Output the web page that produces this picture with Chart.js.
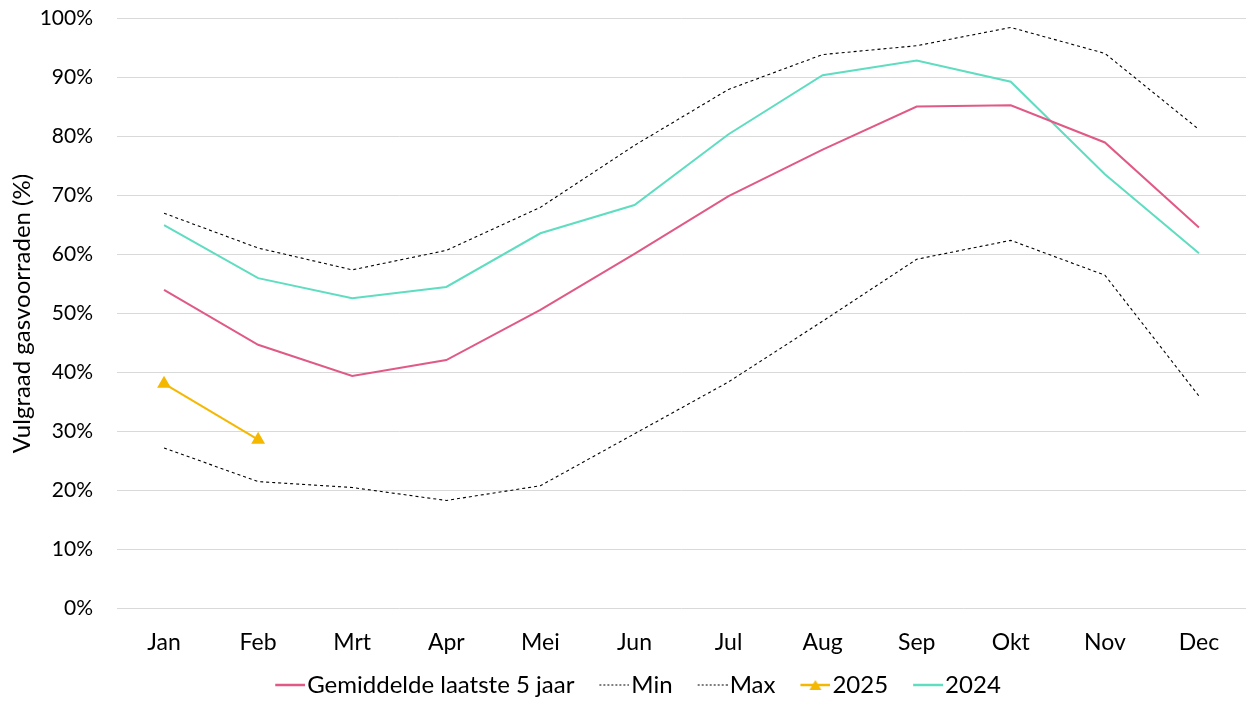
<!DOCTYPE html>
<html>
<head>
<meta charset="utf-8">
<script src="https://cdn.jsdelivr.net/npm/chart.js@4"></script>
<style>
  html, body { margin: 0; padding: 0; background: #fff; }
  #wrap { width: 1254px; height: 708px; }
</style>
</head>
<body>
<div id="wrap"><canvas id="chart" width="1254" height="708"></canvas></div>
<script>
// chart values (fill level in %)
const months = ['Jan', 'Feb', 'Mrt', 'Apr', 'Mei', 'Jun', 'Jul', 'Aug', 'Sep', 'Okt', 'Nov', 'Dec'];
const avg5 = [54.0, 44.7, 39.4, 42.1, 50.6, 60.1, 69.9, 77.8, 85.1, 85.3, 79.0, 64.6];
const minVals = [27.2, 21.5, 20.5, 18.3, 20.8, 29.6, 38.4, 48.7, 59.2, 62.4, 56.5, 36.0];
const maxVals = [67.0, 61.1, 57.4, 60.7, 68.0, 78.5, 88.0, 93.9, 95.4, 98.5, 94.1, 81.2];
const y2025 = [38.1, 28.6, null, null, null, null, null, null, null, null, null, null];
const y2024 = [65.0, 56.0, 52.6, 54.5, 63.6, 68.4, 80.4, 90.4, 92.9, 89.3, 73.6, 60.2];
const yTicks = [0, 10, 20, 30, 40, 50, 60, 70, 80, 90, 100];

const PINK = '#E05A85';
const TEAL = '#5EDDC0';
const GOLD = '#F5B800';

const LEGEND_FONT = 24;
const LEGEND_PAD = 5;
const LEGEND_BOX = 45 - LEGEND_PAD;

// legend icon: 30px line at the right end of a wider transparent canvas,
// so it sits right against the label text
function legendIcon(color, dashed, triangle) {
  const c = document.createElement('canvas');
  c.width = LEGEND_BOX + LEGEND_FONT - 4; c.height = 16;
  const g = c.getContext('2d');
  const x0 = c.width - 30;
  g.strokeStyle = color;
  g.lineWidth = dashed ? 1 : 2.5;
  if (dashed) g.setLineDash([2, 2]);
  g.beginPath(); g.moveTo(x0, 8); g.lineTo(c.width, 8); g.stroke();
  if (triangle) {
    g.fillStyle = color;
    g.beginPath(); g.moveTo(x0 + 15, 3); g.lineTo(x0 + 21, 13); g.lineTo(x0 + 9, 13); g.closePath(); g.fill();
  }
  return c;
}

const bgPlugin = {
  id: 'bg',
  beforeDraw(chart) {
    const ctx = chart.ctx;
    ctx.save();
    ctx.fillStyle = '#fff';
    ctx.fillRect(0, 0, chart.width, chart.height);
    ctx.restore();
  }
};

Chart.defaults.font.family = 'Lato, "Open Sans", sans-serif';
Chart.defaults.color = '#000';

new Chart(document.getElementById('chart').getContext('2d'), {
  type: 'line',
  data: {
    labels: months,
    datasets: [
      { label: 'Gemiddelde laatste 5 jaar', data: avg5, borderColor: PINK, borderWidth: 2, pointRadius: 0,
        pointStyle: legendIcon(PINK, false, false) },
      { label: 'Min', data: minVals, borderColor: '#000', borderWidth: 1.1, borderDash: [3, 3], pointRadius: 0,
        pointStyle: legendIcon('#000', true, false) },
      { label: 'Max', data: maxVals, borderColor: '#000', borderWidth: 1.1, borderDash: [3, 3], pointRadius: 0,
        pointStyle: legendIcon('#000', true, false) },
      { label: '2025', data: y2025, borderColor: GOLD, backgroundColor: GOLD, borderWidth: 2,
        pointStyle: 'triangle', pointRadius: 6, pointBackgroundColor: GOLD, pointBorderColor: GOLD },
      { label: '2024', data: y2024, borderColor: TEAL, borderWidth: 2, pointRadius: 0,
        pointStyle: legendIcon(TEAL, false, false) }
    ]
  },
  options: {
    responsive: false,
    animation: false,
    layout: { padding: { left: 8, right: 6, top: 0, bottom: 1 } },
    plugins: {
      legend: {
        position: 'bottom',
        labels: {
          usePointStyle: true,
          pointStyleWidth: LEGEND_BOX,
          padding: LEGEND_PAD,
          font: { size: LEGEND_FONT },
          generateLabels(chart) {
            const items = Chart.defaults.plugins.legend.labels.generateLabels(chart);
            items[3].pointStyle = legendIcon(GOLD, false, true);
            return items;
          }
        }
      },
      tooltip: { enabled: false }
    },
    scales: {
      x: {
        offset: true,
        grid: { display: false },
        border: { display: false },
        ticks: { font: { size: 23 }, padding: 12 }
      },
      y: {
        min: 0,
        max: 100,
        afterBuildTicks(axis) { axis.ticks = yTicks.map(v => ({ value: v })); },
        afterFit(axis) { axis.width = 109; },
        grid: { color: '#d9d9d9', lineWidth: 1, drawTicks: true, tickLength: 18, tickColor: 'rgba(0,0,0,0)' },
        border: { display: false },
        ticks: { font: { size: 21 }, padding: 6, callback: v => v + '%' },
        title: { display: true, text: 'Vulgraad gasvoorraden (%)', font: { size: 24 }, padding: { top: 0, bottom: 0 } }
      }
    }
  },
  plugins: [bgPlugin]
});
</script>
</body>
</html>
